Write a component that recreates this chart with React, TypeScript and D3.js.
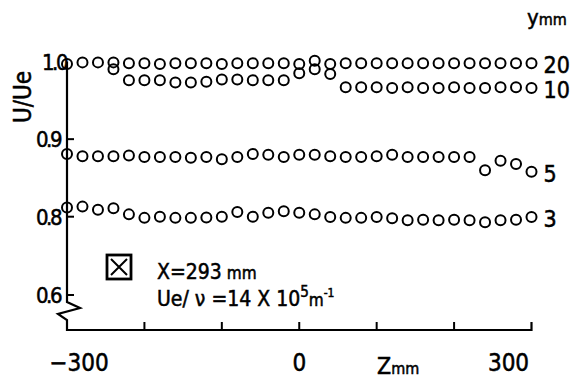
import React from "react";
import * as d3 from "d3";

// spanwise stations, mm
const zStations = [
  -300, -280, -260, -240, -220, -200, -180, -160, -140, -120, -100, -80, -60, -40, -20,
  0, 20, 40, 60, 80, 100, 120, 140, 160, 180, 200, 220, 240, 260, 280, 300,
];

// U/Ue at each height y (mm)
const u20 = [
  0.997, 0.999, 0.999, 0.999, 0.998, 0.998, 0.997, 0.998, 0.998, 0.998, 0.997, 0.998, 0.998, 0.998, 0.998,
  0.997, 1.001, 0.997, 0.998, 0.998, 0.998, 0.998, 0.998, 0.998, 0.998, 0.998, 0.998, 0.998, 0.998, 0.998, 0.998,
];
const u10 = [
  null, null, null, 0.99, 0.976, 0.976, 0.976, 0.973, 0.973, 0.974, 0.977, 0.977, 0.976, 0.976, 0.976,
  0.985, 0.99, 0.984, 0.967, 0.967, 0.967, 0.966, 0.967, 0.966, 0.966, 0.967, 0.966, 0.966, 0.967, 0.967, 0.966,
];
const u5 = [
  0.881, 0.878, 0.878, 0.878, 0.879, 0.877, 0.877, 0.877, 0.876, 0.877, 0.874, 0.877, 0.881, 0.88, 0.877,
  0.88, 0.88, 0.878, 0.877, 0.877, 0.878, 0.88, 0.877, 0.877, 0.877, 0.877, 0.877, 0.86, 0.872, 0.868, 0.858,
];
const u3 = [
  0.812, 0.813, 0.809, 0.811, 0.803, 0.797, 0.8, 0.797, 0.797, 0.798, 0.8, 0.806, 0.8, 0.805, 0.807,
  0.805, 0.803, 0.799, 0.797, 0.797, 0.799, 0.796, 0.791, 0.792, 0.791, 0.792, 0.791, 0.786, 0.791, 0.792, 0.799,
];

const seriesLabels = ["20", "10", "5", "3"];
const seriesValues = [u20, u10, u5, u3];

const yTicks = [0.6, 0.8, 0.9, 1.0];
const yTickLabels = ["0.6", "0.8", "0.9", "1.0"];
const xTicks = [-300, -200, -100, 0, 100, 200, 300];
const xTickLabels = ["\u2212300", "0", "300"];
const xLabelTicks = [-300, 0, 300];

const font = "'DejaVu Sans Condensed', 'DejaVu Sans', sans-serif";

export default function App() {
  const width = 574;
  const height = 380;

  const x = d3.scaleLinear().domain([-300, 300]).range([67, 531.5]);
  // broken axis: 0.6 sits where 0.7 would be
  const y = d3.scaleLinear().domain([0.6, 0.8, 1.0]).range([295, 216.7, 61.6]);

  const base = 330;
  const x0 = x(-300);
  const x1 = x(300);

  const axisPath = [
    `M${x0},${y(1.0)}`,
    `L${x0},302`,
    `L${x0 + 13},308`,
    `L${x0 - 9},314`,
    `L${x0},320`,
    `L${x0},${base}`,
    `L${x1},${base}`,
    `L${x1},${base - 8}`,
  ].join(" ");

  return (
    <svg
      width={width}
      height={height}
      style={{ position: "absolute", left: 0, top: 0, background: "#fff" }}
      fontFamily={font}
    >
      <path d={axisPath} fill="none" stroke="#000" strokeWidth={2.2} />

      {xTicks.slice(1, -1).map((t) => (
        <line key={t} x1={x(t)} x2={x(t)} y1={base} y2={base - 8} stroke="#000" strokeWidth={2} />
      ))}
      {yTicks.slice(0, -1).map((t) => (
        <line key={t} x1={x0} x2={x0 + 7} y1={y(t)} y2={y(t)} stroke="#000" strokeWidth={2} />
      ))}

      <g stroke="#000" strokeWidth={0.5}>
        {yTicks.map((t, i) => (
          <text key={t} x={t === 1.0 ? 66 : 60} y={y(t) + 8} textAnchor="end" fontSize={22} letterSpacing={-2.5}>
            {yTickLabels[i]}
          </text>
        ))}

        {xLabelTicks.map((t, i) => (
          <text
            key={t}
            x={x(t) + (t === -300 ? 12 : t === 300 ? -23 : 0)}
            y={371}
            textAnchor="middle"
            fontSize={24}
          >
            {xTickLabels[i]}
          </text>
        ))}

        <text x={377} y={374} fontSize={23}>
          Z<tspan fontSize={16}>mm</tspan>
        </text>
        <text x={527} y={25} fontSize={22}>
          y<tspan fontSize={16}>mm</tspan>
        </text>

        <text transform="translate(31,97) rotate(-90)" textAnchor="middle" fontSize={24}>
          U/Ue
        </text>

        {seriesValues.map((vals, si) => (
          <text key={si} x={x1 + 12} y={y(vals[vals.length - 1] as number) + 10} fontSize={23}>
            {seriesLabels[si]}
          </text>
        ))}

        <text x={157} y={279} fontSize={21}>
          X=293<tspan fontSize={17} dx={5}>mm</tspan>
        </text>
        <text x={157} y={306} fontSize={21}>
          Ue/ ν =14 X 10<tspan fontSize={15} dy={-9}>5</tspan>
          <tspan fontSize={17} dy={9}>m</tspan>
          <tspan fontSize={12} dy={-9}>-1</tspan>
        </text>
      </g>

      {seriesValues.map((vals, si) => (
        <g key={si}>
          {vals.map((v, i) =>
            v == null ? null : (
              <circle key={i} cx={x(zStations[i])} cy={y(v)} r={5} fill="none" stroke="#000" strokeWidth={2} />
            )
          )}
        </g>
      ))}

      {/* legend */}
      <rect x={107} y={255} width={24} height={24} fill="none" stroke="#000" strokeWidth={2.8} />
      <path d="M111,259 L127,275 M127,259 L111,275" stroke="#000" strokeWidth={2} />
    </svg>
  );
}
